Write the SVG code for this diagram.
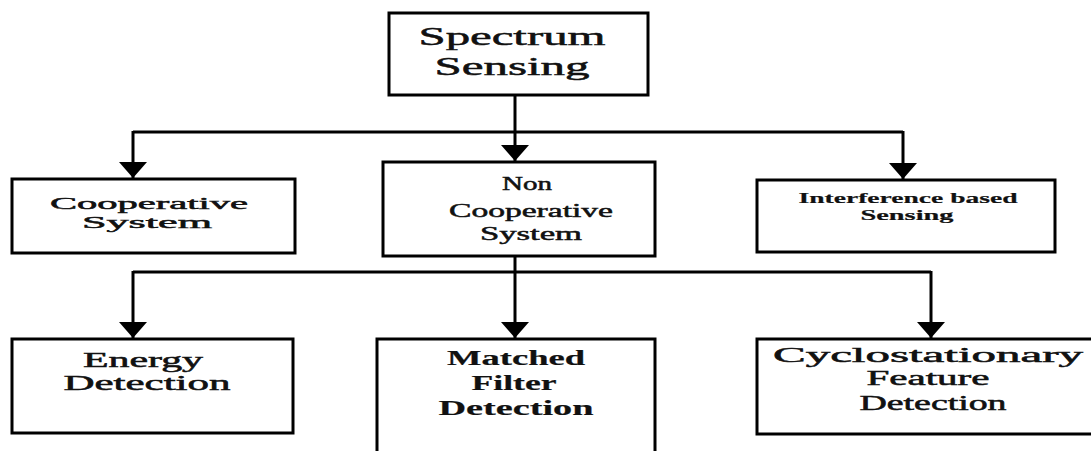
<svg xmlns="http://www.w3.org/2000/svg" width="1091" height="451" viewBox="0 0 1091 451">
<style>
.box{fill:#fff;stroke:#000;stroke-width:3}
.ln{fill:none;stroke:#000;stroke-width:3}
.t{font-family:"Liberation Serif","Times New Roman",serif;fill:#111;text-anchor:middle;stroke:#111;stroke-width:0.5}
.b{font-weight:bold;stroke-width:0.2}
</style>
<defs>
<marker id="ah" markerUnits="userSpaceOnUse" markerWidth="16" markerHeight="28" refX="16" refY="14" orient="auto" viewBox="0 0 16 28">
<path d="M0,0 L16,14 L0,28 Z" fill="#000"/>
</marker>
</defs>
<rect width="1091" height="451" fill="#fff"/>
<g id="connectors">
<path class="ln" d="M515,95 V132"/>
<path class="ln" d="M133,132 H903"/>
<path class="ln" d="M133,131 V178" marker-end="url(#ah)"/>
<path class="ln" d="M515,132 V161" marker-end="url(#ah)"/>
<path class="ln" d="M903,131 V179" marker-end="url(#ah)"/>
<path class="ln" d="M515,256 V272"/>
<path class="ln" d="M133,272 H931"/>
<path class="ln" d="M133,271 V338" marker-end="url(#ah)"/>
<path class="ln" d="M515,272 V338" marker-end="url(#ah)"/>
<path class="ln" d="M931,271 V338" marker-end="url(#ah)"/>
</g>
<g id="spectrum">
<rect class="box" x="389" y="13" width="259" height="82"/>
<text class="t" font-size="25" x="512" y="45" textLength="187" lengthAdjust="spacingAndGlyphs">Spectrum</text>
<text class="t" font-size="25" x="512" y="75" textLength="155" lengthAdjust="spacingAndGlyphs">Sensing</text>
</g>
<g id="cooperative">
<rect class="box" x="12" y="179" width="283" height="74"/>
<text class="t" font-size="17" x="149" y="209" textLength="198" lengthAdjust="spacingAndGlyphs">Cooperative</text>
<text class="t" font-size="17" x="147" y="228" textLength="130" lengthAdjust="spacingAndGlyphs">System</text>
</g>
<g id="noncooperative">
<rect class="box" x="383" y="162" width="272" height="94"/>
<text class="t" font-size="19" x="527" y="190" textLength="50" lengthAdjust="spacingAndGlyphs">Non</text>
<text class="t" font-size="19" x="531" y="217" textLength="164" lengthAdjust="spacingAndGlyphs">Cooperative</text>
<text class="t" font-size="19" x="531" y="240" textLength="102" lengthAdjust="spacingAndGlyphs">System</text>
</g>
<g id="interference">
<rect class="box" x="757" y="180" width="298" height="72"/>
<text class="t b" font-size="15" x="908" y="203" textLength="219" lengthAdjust="spacingAndGlyphs">Interference based</text>
<text class="t b" font-size="15" x="907" y="220" textLength="93" lengthAdjust="spacingAndGlyphs">Sensing</text>
</g>
<g id="energy">
<rect class="box" x="12" y="339" width="281" height="94"/>
<text class="t" font-size="20" x="143" y="367" textLength="120" lengthAdjust="spacingAndGlyphs">Energy</text>
<text class="t" font-size="20" x="147" y="390" textLength="167" lengthAdjust="spacingAndGlyphs">Detection</text>
</g>
<g id="matched">
<rect class="box" x="377" y="339" width="278" height="130"/>
<text class="t b" font-size="20" x="516" y="365" textLength="138" lengthAdjust="spacingAndGlyphs">Matched</text>
<text class="t b" font-size="20" x="514" y="390" textLength="85" lengthAdjust="spacingAndGlyphs">Filter</text>
<text class="t b" font-size="20" x="516" y="415" textLength="155" lengthAdjust="spacingAndGlyphs">Detection</text>
</g>
<g id="cyclostationary">
<rect class="box" x="757" y="339" width="345" height="95"/>
<text class="t" font-size="20" x="928" y="362" textLength="310" lengthAdjust="spacingAndGlyphs">Cyclostationary</text>
<text class="t" font-size="20" x="928" y="385" textLength="123" lengthAdjust="spacingAndGlyphs">Feature</text>
<text class="t" font-size="20" x="933" y="410" textLength="147" lengthAdjust="spacingAndGlyphs">Detection</text>
</g>
</svg>
